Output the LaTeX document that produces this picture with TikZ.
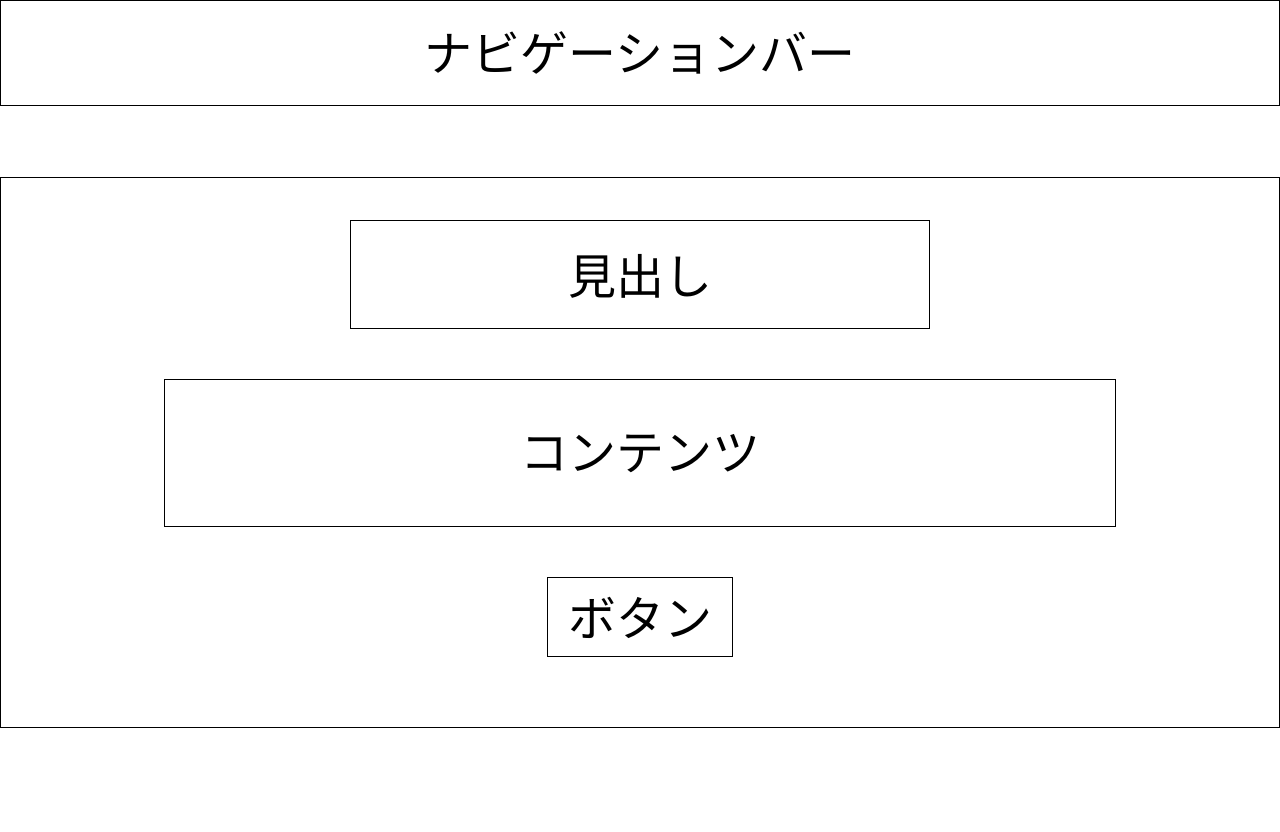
\documentclass[tikz,border=0pt]{standalone}
\usepackage{fontspec}
\newfontfamily\jp{Noto Sans CJK JP}
\begin{document}
\begin{tikzpicture}[x=1pt,y=-1pt,
  box/.style={draw=black,line width=1pt,fill=white},
  lbl/.style={font=\jp\fontsize{48}{56}\selectfont,inner sep=0pt,anchor=center}]
\useasboundingbox (0,0) rectangle (1280,832);
\fill[white] (0,0) rectangle (1280,832);
\draw[box] (0.5,0.5) rectangle (1279.5,105.5);
\node[lbl] (nav) at (640,53) {ナビゲーションバー};
\draw[box] (0.5,177.5) rectangle (1279.5,727.5);
\coordinate (main) at (640,452);
\draw[box] (350.5,220.5) rectangle (929.5,328.5);
\node[lbl] (head) at (640,276) {見出し};
\draw[box] (164.5,379.5) rectangle (1115.5,526.5);
\node[lbl] (content) at (640,454) {コンテンツ};
\draw[box] (547.5,577.5) rectangle (732.5,656.5);
\node[lbl] (button) at (640,618) {ボタン};
\end{tikzpicture}
\end{document}
